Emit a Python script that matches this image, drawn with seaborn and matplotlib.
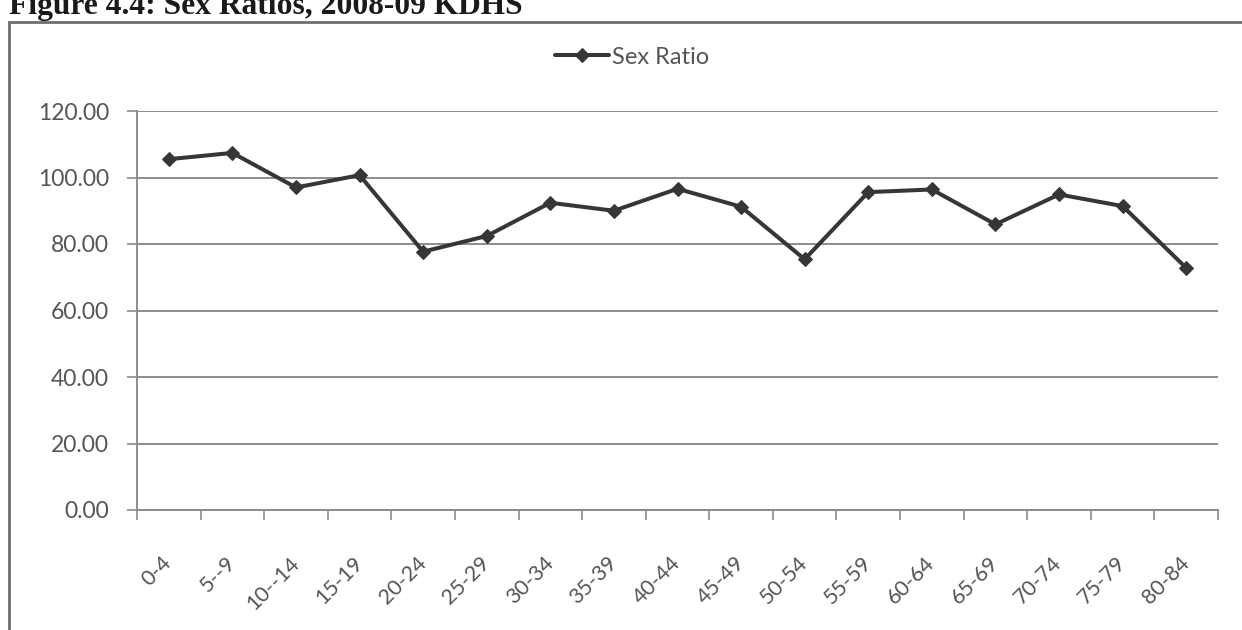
import matplotlib
matplotlib.use("Agg")
import matplotlib.pyplot as plt
import matplotlib.patches as mpatches
from matplotlib.ticker import FixedLocator, FormatStrFormatter
import seaborn as sns
import pandas as pd
import numpy as np

# Age groups and the sex ratio (males per 100 females) for each
age_groups = ["0-4", "5--9", "10--14", "15-19", "20-24", "25-29", "30-34",
              "35-39", "40-44", "45-49", "50-54", "55-59", "60-64", "65-69",
              "70-74", "75-79", "80-84"]
sex_ratio = [105.5, 107.4, 97.0, 100.7, 77.7, 82.4, 92.4, 90.0, 96.6,
             91.2, 75.4, 95.6, 96.4, 85.9, 94.9, 91.4, 72.8]
y_ticks = [0, 20, 40, 60, 80, 100, 120]
title_text = "Figure 4.4: Sex Ratios, 2008-09 KDHS"
series_name = "Sex Ratio"

df = pd.DataFrame({"pos": np.arange(len(age_groups)),
                   "group": age_groups,
                   "ratio": sex_ratio})

sns.set_theme(style="white")
plt.rcParams["font.family"] = ["Lato", "DejaVu Sans"]

text_gray = "#555555"
line_col = "#363636"
grid_col = "#8c8c8c"

fig = plt.figure(figsize=(12.42, 6.30), dpi=100)
fig.patch.set_facecolor("white")
ax = fig.add_axes([137 / 1242, 1 - 510 / 630, (1218 - 137) / 1242, (510 - 111) / 630])

sns.lineplot(data=df, x="pos", y="ratio", ax=ax, color=line_col,
             linewidth=2.9, marker="D", markersize=8.5,
             markerfacecolor=line_col, markeredgecolor=line_col,
             label=series_name, legend=False)

ax.set_xlim(-0.5, len(age_groups) - 0.5)
ax.set_ylim(0, 120)
ax.set_xlabel("")
ax.set_ylabel("")

# horizontal gridlines
ax.yaxis.set_major_locator(FixedLocator(y_ticks))
ax.yaxis.set_major_formatter(FormatStrFormatter("%.2f"))
ax.grid(axis="y", color=grid_col, linewidth=1.4)
ax.grid(axis="x", visible=False)
ax.set_axisbelow(True)

# category labels at centers, tick marks at boundaries
ax.set_xticks(df["pos"])
ax.set_xticklabels(age_groups, rotation=45, ha="right", va="center",
                   rotation_mode="anchor", fontsize=15.5, color=text_gray)
ax.set_xticks(np.arange(-0.5, len(age_groups) + 0.5, 1.0), minor=True)
ax.tick_params(axis="x", which="major", length=0, pad=36)
ax.tick_params(axis="x", which="minor", bottom=True, length=7, width=1.2,
               color=grid_col, direction="out")
ax.tick_params(axis="y", left=True, length=7, width=1.2, color=grid_col,
               direction="out", labelsize=16.5, labelcolor=text_gray, pad=13)

for side in ["top", "right"]:
    ax.spines[side].set_visible(False)
for side in ["left", "bottom"]:
    ax.spines[side].set_color(grid_col)
    ax.spines[side].set_linewidth(1.4)

handles, labels = ax.get_legend_handles_labels()
for h in handles:
    h.set_markersize(7.5)
fig.legend(handles, labels, loc="center", bbox_to_anchor=(632 / 1242, 1 - 57 / 630),
           frameon=False, fontsize=17, handlelength=2.3, handletextpad=0.15,
           labelcolor=text_gray)

# chart frame
fig.add_artist(mpatches.Rectangle((9 / 1242, -0.05), 1.1,
                                  1.05 - 22 / 630, transform=fig.transFigure,
                                  fill=False, edgecolor="#6e6e6e", linewidth=2.0))

# figure caption, partly cut off at the top edge
fig.text(9 / 1242, 1 - 14 / 630, title_text, ha="left", va="baseline",
         fontsize=22.7, fontweight="bold", color="#1a1a1a",
         family=["Liberation Serif", "DejaVu Serif"])

fig.savefig("out.png", dpi=100, facecolor="white")
